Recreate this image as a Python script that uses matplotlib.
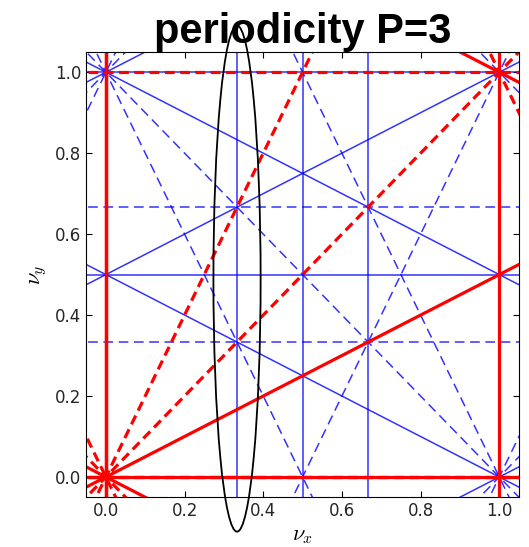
"""Tune diagram: resonance lines m*nu_x + n*nu_y = p up to 3rd order, periodicity P=3."""
import numpy as np
import matplotlib as mpl
mpl.use("Agg")
import matplotlib.pyplot as plt
from matplotlib.patches import Ellipse

mpl.rcParams.update({"font.size": 12, "mathtext.fontset": "cm",
                     "xtick.direction": "in", "ytick.direction": "in",
                     "xtick.top": True, "ytick.right": True,
                     "xtick.major.size": 4, "ytick.major.size": 4,
                     "lines.scale_dashes": False,
                     "lines.dashed_pattern": [7, 4]})

max_order = 3                  # |m| + |n| <= 3
period = 3                     # systematic lines: p multiple of P
lims = [-0.05, 1.05]
ticks = [0.0, 0.2, 0.4, 0.6, 0.8, 1.0]
ell_center = (1/3, 0.49)       # highlighted nu_x = 1/3 region
ell_size = (0.12, 1.25)

fig = plt.figure(figsize=(5.29, 5.47), dpi=100)
ax = fig.add_axes([0.163, 0.091, 0.818, 0.814])

xs = np.array([-0.2, 1.2])
corners = np.array([[lims[0], lims[0]], [lims[0], lims[1]],
                    [lims[1], lims[0]], [lims[1], lims[1]]])
blue, red = [], []
for m in range(0, max_order + 1):
    for n in range(-max_order, max_order + 1):
        if abs(m) + abs(n) == 0 or abs(m) + abs(n) > max_order:
            continue
        if m == 0 and n < 0:
            continue
        vals = m*corners[:, 0] + n*corners[:, 1]
        for p in range(int(np.floor(vals.min())), int(np.ceil(vals.max())) + 1):
            if not (vals.min() <= p <= vals.max()):
                continue
            ls = "-" if n % 2 == 0 else "--"
            (red if p % period == 0 else blue).append((m, n, p, ls))


def draw(m, n, p, ls, **kw):
    if n == 0:
        ax.axvline(p/m, ls=ls, **kw)
    else:
        ax.plot(xs, (p - m*xs)/n, ls=ls, **kw)


for m, n, p, ls in blue:
    draw(m, n, p, ls, color="b", lw=1.1, alpha=0.8)
for m, n, p, ls in red:
    draw(m, n, p, ls, color="r", lw=2.3)

ax.add_patch(Ellipse(ell_center, ell_size[0], ell_size[1], fill=False,
                     ec="k", lw=1.3, clip_on=False, zorder=5))

ax.set_xlim(lims); ax.set_ylim(lims)
ax.set_xticks(ticks); ax.set_yticks(ticks)
ax.tick_params(labelcolor="0.15")
ax.set_xlabel(r"$\nu_x$", fontsize=16)
ax.set_ylabel(r"$\nu_y$", fontsize=16)
ax.set_title("periodicity P=3", fontsize=30, fontweight="bold",
             family="Liberation Sans", pad=5)
fig.savefig("out.png", dpi=100)
